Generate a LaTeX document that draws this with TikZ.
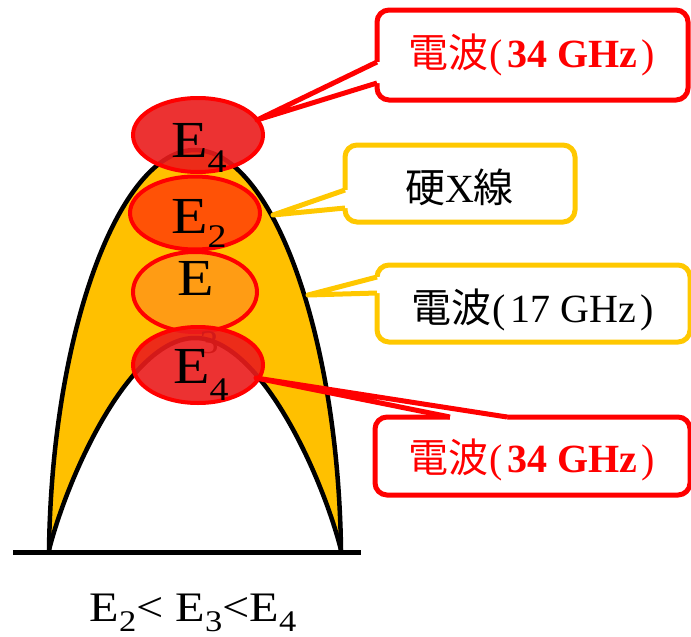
\documentclass[tikz,border=0pt]{standalone}
\usepackage{fontspec}
\setmainfont{Liberation Serif}
\newfontfamily\widefont[FakeStretch=1.15]{Liberation Serif}
\newfontfamily\cjk{Noto Sans CJK JP}
\usetikzlibrary{shapes.geometric,calc}

\definecolor{archgold}{RGB}{255,192,0}
\definecolor{callgold}{RGB}{255,200,0}
\definecolor{hotred}{RGB}{255,0,0}
\definecolor{bubred}{RGB}{234,28,28}
\definecolor{buborange}{RGB}{255,82,6}
\definecolor{bubamber}{RGB}{255,156,20}

% lowered index digit
\newcommand\lowidx[3]{\raisebox{-#1}{\fontsize{#2}{#2}\selectfont #3}}

\begin{document}
\begin{tikzpicture}[x=1pt,y=-1pt,
  bubble/.style={ellipse, draw=hotred, line width=4pt, inner sep=0pt, outer sep=0pt},
  elabel/.style={anchor=base west, inner sep=0pt, font=\widefont\fontsize{52pt}{52pt}\selectfont},
  boxred/.style={draw=hotred, line width=5pt, fill=white, rounded corners=12pt, outer sep=0pt},
  boxgold/.style={draw=callgold, line width=5pt, fill=white, rounded corners=12pt, outer sep=0pt},
  tipred/.style={draw=hotred, line width=5pt, line join=round},
  tipgold/.style={draw=callgold, line width=5pt, line join=round},
  tag/.style={anchor=base, inner sep=0pt, font=\fontsize{40pt}{40pt}\selectfont},
  curve/.style={draw=black, line width=4.5pt, line join=round},
]
\useasboundingbox (0,0) rectangle (691,637);

% golden arch between the outer and inner boundaries
\fill[archgold] (49,550) .. controls (52,330) and (120,150) .. (195,150)
  .. controls (270,150) and (338,330) .. (341,550)
  .. controls (322,475) and (260,338) .. (195,338)
  .. controls (130,338) and (68,475) .. (49,550) -- cycle;
\draw[curve] (49,550) .. controls (52,330) and (120,150) .. (195,150)
  .. controls (270,150) and (338,330) .. (341,550);
\draw[curve] (49,550) .. controls (68,475) and (130,338) .. (195,338)
  .. controls (260,338) and (322,475) .. (341,550);

% ground line
\coordinate (gl) at (13,552);
\coordinate (gr) at (361,552);
\draw[line width=5pt] (gl) -- (gr);

% energy levels
\node[bubble, fill=buborange, minimum width=130pt, minimum height=73pt] (e2) at (195,213) {};
\node[elabel] (l2) at (171,233) {E\lowidx{14pt}{33pt}{2}};
\node[bubble, fill=bubamber, minimum width=124pt, minimum height=80pt] (e3) at (195,292) {};
\node[elabel] (l3) at (177,295) {E\kern-14pt\lowidx{58pt}{33pt}{3}};
\node[bubble, fill=bubred, fill opacity=0.9, minimum width=130pt, minimum height=74pt] (e4a) at (198,135) {};
\node[elabel] (l4a) at (171,157) {E\lowidx{15pt}{33pt}{4}};
\node[bubble, fill=bubred, fill opacity=0.9, minimum width=130pt, minimum height=76pt] (e4b) at (198,365) {};
\node[elabel] (l4b) at (173,383) {E\lowidx{17pt}{33pt}{4}};

% callout: upper 34 GHz
\node[boxred, minimum width=311pt, minimum height=90pt] (c1) at (532.5,55) {};
\coordinate (k1) at (257,120);
\fill[white] (k1) -- ($(c1.west)+(0,7)$) -- ($(c1.west)+(5,7)$) -- ($(c1.west)+(5,28)$) -- ($(c1.west)+(0,28)$) -- cycle;
\draw[tipred] ($(c1.west)+(0,7)$) -- (k1) -- ($(c1.west)+(0,28)$);
\node[tag, text=hotred] (t1) at (531.5,67) {{\cjk 電波}\kern1pt(\kern5pt\textbf{34 GHz}\kern4pt)};

% callout: hard X-ray
\node[boxgold, minimum width=230pt, minimum height=77pt] (c2) at (460,183.5) {};
\coordinate (k2) at (273,215);
\fill[white] (k2) -- ($(c2.west)+(0,6.5)$) -- ($(c2.west)+(5,6.5)$) -- ($(c2.west)+(5,24.5)$) -- ($(c2.west)+(0,24.5)$) -- cycle;
\draw[tipgold] ($(c2.west)+(0,6.5)$) -- (k2) -- ($(c2.west)+(0,24.5)$);
\node[tag] (t2) at (459.5,202) {{\cjk 硬}X{\cjk 線}};

% callout: 17 GHz
\node[boxgold, minimum width=313pt, minimum height=77pt] (c3) at (533.5,303.5) {};
\coordinate (k3) at (308,295);
\fill[white] (k3) -- ($(c3.west)+(0,-26.5)$) -- ($(c3.west)+(5,-26.5)$) -- ($(c3.west)+(5,-10.5)$) -- ($(c3.west)+(0,-10.5)$) -- cycle;
\draw[tipgold] ($(c3.west)+(0,-26.5)$) -- (k3) -- ($(c3.west)+(0,-10.5)$);
\node[tag] (t3) at (532.5,322) {{\cjk 電波}\kern1pt(\kern5pt17 GHz\kern4pt)};

% callout: lower 34 GHz
\node[boxred, minimum width=315pt, minimum height=78pt] (c4) at (532.5,456) {};
\coordinate (k4) at (256,378);
\fill[white] (k4) -- ($(c4.north)+(-82.5,0)$) -- ($(c4.north)+(-82.5,5)$) -- ($(c4.north)+(-25.5,5)$) -- ($(c4.north)+(-25.5,0)$) -- cycle;
\draw[tipred] ($(c4.north)+(-82.5,0)$) -- (k4) -- ($(c4.north)+(-25.5,0)$);
\node[tag, text=hotred] (t4) at (531.5,472) {{\cjk 電波}\kern1pt(\kern5pt\textbf{34 GHz}\kern4pt)};

% ordering of the levels
\node[anchor=base, inner sep=0pt, font=\widefont\fontsize{42pt}{42pt}\selectfont] (ord) at (193,621)
  {E\lowidx{10pt}{30pt}{2}< E\lowidx{10pt}{30pt}{3}<E\lowidx{10pt}{30pt}{4}};
\end{tikzpicture}
\end{document}
